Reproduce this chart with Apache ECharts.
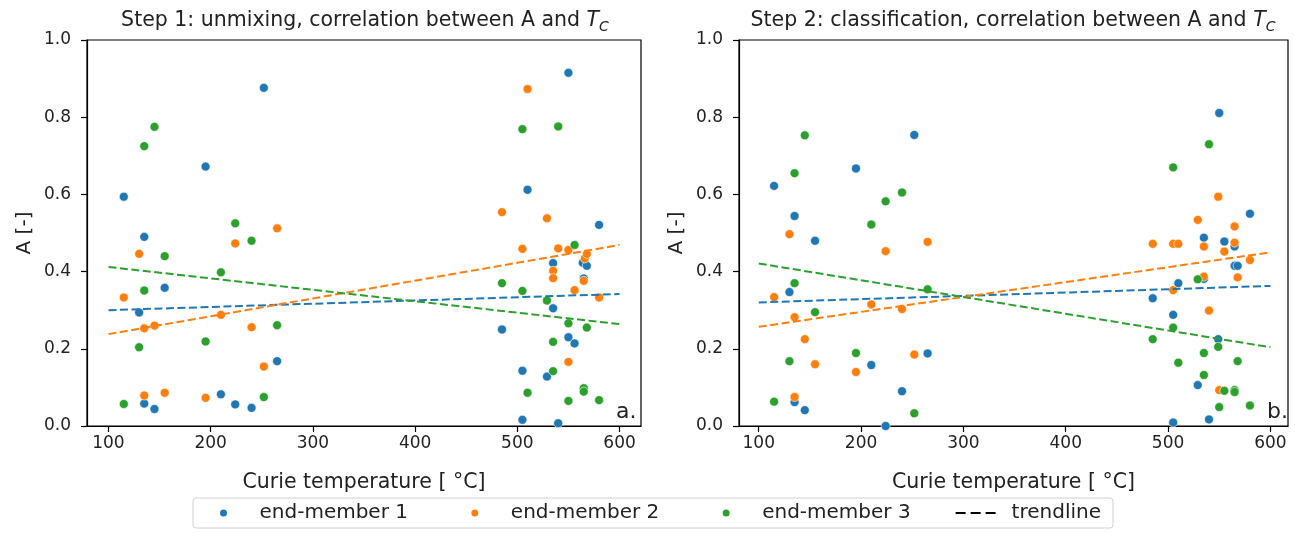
<!doctype html>
<html>

<head>
	<meta charset="utf-8">
	<title></title>
	<script type="text/javascript" src="https://cdn.jsdelivr.net/npm/echarts@6/dist/echarts.min.js"></script>
	<style>
		body { margin: 0; background: #fff; }
	</style>
</head>

<body>
	<div id="main" style="width: 1295px;height:533px;"></div>
	<script type="text/javascript">
		// tick positions
		var xTicks = [100, 200, 300, 400, 500, 600];

		// step 1 (unmixing) : [Curie temperature, A]
		var s1em1 = [[115, 0.594], [130, 0.294], [135, 0.490], [135, 0.058], [145, 0.044], [155, 0.358], [195, 0.672], [210, 0.082], [224, 0.056], [240, 0.047], [252, 0.876], [265, 0.168],
			[485, 0.250], [505, 0.143], [505, 0.016], [510, 0.612], [529, 0.128], [535, 0.422], [535, 0.305], [540, 0.007], [550, 0.915], [550, 0.230], [556, 0.214], [564, 0.423], [565, 0.382], [568, 0.415], [580, 0.521]];
		var s1em2 = [[115, 0.333], [130, 0.446], [135, 0.253], [135, 0.079], [145, 0.260], [155, 0.086], [195, 0.073], [210, 0.288], [224, 0.473], [240, 0.256], [252, 0.154], [265, 0.512],
			[485, 0.554], [505, 0.459], [510, 0.873], [529, 0.538], [535, 0.402], [535, 0.383], [540, 0.460], [550, 0.456], [550, 0.166], [556, 0.352], [565, 0.376], [566, 0.434], [568, 0.446], [580, 0.333]];
		var s1em3 = [[115, 0.057], [130, 0.204], [135, 0.725], [135, 0.351], [145, 0.775], [155, 0.440], [195, 0.219], [210, 0.398], [224, 0.525], [240, 0.480], [252, 0.075], [265, 0.261],
			[485, 0.370], [505, 0.769], [505, 0.350], [510, 0.086], [529, 0.325], [535, 0.218], [535, 0.142], [540, 0.776], [550, 0.266], [550, 0.065], [556, 0.469], [565, 0.098], [565, 0.089], [568, 0.255], [580, 0.067]];

		// step 2 (classification)
		var s2em1 = [[115, 0.622], [130, 0.347], [135, 0.544], [135, 0.062], [145, 0.041], [155, 0.480], [195, 0.667], [210, 0.158], [224, 0.0], [240, 0.090], [252, 0.754], [265, 0.188],
			[485, 0.331], [505, 0.288], [505, 0.009], [510, 0.370], [529, 0.106], [535, 0.488], [535, 0.381], [540, 0.017], [550, 0.811], [549, 0.225], [555, 0.478], [565, 0.465], [565, 0.415], [568, 0.415], [580, 0.550]];
		var s2em2 = [[115, 0.334], [130, 0.497], [135, 0.282], [135, 0.075], [145, 0.225], [155, 0.160], [195, 0.140], [210, 0.315], [224, 0.453], [240, 0.303], [252, 0.185], [265, 0.477],
			[485, 0.472], [505, 0.472], [505, 0.352], [510, 0.472], [529, 0.534], [535, 0.465], [535, 0.387], [540, 0.299], [549, 0.594], [550, 0.093], [555, 0.452], [565, 0.517], [565, 0.475], [568, 0.385], [580, 0.430]];
		var s2em3 = [[115, 0.063], [130, 0.168], [135, 0.655], [135, 0.370], [145, 0.753], [155, 0.295], [195, 0.189], [210, 0.522], [224, 0.582], [240, 0.605], [252, 0.033], [265, 0.354],
			[485, 0.225], [505, 0.670], [505, 0.255], [510, 0.164], [529, 0.380], [535, 0.189], [535, 0.132], [540, 0.730], [549, 0.205], [550, 0.049], [555, 0.091], [565, 0.093], [565, 0.088], [568, 0.168], [580, 0.053]];

		// trendlines, value at x = 100 and x = 600
		var trendX = [100, 600];
		var t1em1 = [0.300, 0.342];
		var t1em2 = [0.238, 0.469];
		var t1em3 = [0.412, 0.264];
		var t2em1 = [0.320, 0.363];
		var t2em2 = [0.257, 0.450];
		var t2em3 = [0.421, 0.204];

		var names = ['end-member 1', 'end-member 2', 'end-member 3'];
		var colors = ['#1f77b4', '#ff7f0e', '#2ca02c'];
		var txt = '#222';
		var font = 'DejaVu Sans';

		function pts(ys) {
			return trendX.map((x, i) => [x, ys[i]]);
		}

		function xAx(idx, min, max) {
			return {
				gridIndex: idx, type: 'value', min: min, max: max,
				name: 'Curie temperature [ °C]', nameLocation: 'middle', nameGap: 46,
				nameTextStyle: { fontSize: 20.5, color: txt, fontFamily: font },
				axisLine: { show: true, onZero: false, lineStyle: { color: '#000', width: 1.2 } },
				axisTick: { show: true, length: 6, customValues: xTicks, lineStyle: { color: '#000', width: 1.2 } },
				axisLabel: { customValues: xTicks, margin: 9, fontSize: 17, color: txt, fontFamily: font },
				splitLine: { show: false }
			};
		}

		function yAx(idx) {
			return {
				gridIndex: idx, type: 'value', min: 0, max: 1, interval: 0.2,
				name: 'A [-]', nameLocation: 'middle', nameGap: 52,
				nameTextStyle: { fontSize: 20, color: txt, fontFamily: font },
				axisLine: { show: true, onZero: false, lineStyle: { color: '#000', width: 1.2 } },
				axisTick: { show: true, length: 6, lineStyle: { color: '#000', width: 1.2 } },
				axisLabel: { margin: 16, fontSize: 17, color: txt, fontFamily: font, formatter: v => v.toFixed(1) },
				splitLine: { show: false }
			};
		}

		function scat(idx, k, data) {
			return {
				type: 'scatter', name: names[k], xAxisIndex: idx, yAxisIndex: idx,
				data: data, symbolSize: 9, z: 2,
				itemStyle: { color: colors[k], borderColor: '#fff', borderWidth: 0.6, opacity: 1 }
			};
		}

		function trend(idx, k, ys) {
			return {
				type: 'line', name: 'trend' + idx + k, xAxisIndex: idx, yAxisIndex: idx,
				data: pts(ys), symbol: 'none', silent: true, z: 3,
				lineStyle: { color: colors[k], width: 2, type: [8, 3.5] }
			};
		}

		var titleRich = {
			i: { fontStyle: 'italic', fontSize: 20.5, color: txt, fontFamily: font },
			s: { fontStyle: 'italic', fontSize: 14, color: txt, fontFamily: font, verticalAlign: 'bottom', lineHeight: 16 }
		};

		var myChart = echarts.init(document.getElementById('main'));
		option = {
			animation: false,
			backgroundColor: '#fff',
			textStyle: { fontFamily: font },
			title: [
				{
					text: 'Step 1: unmixing, correlation between A and {i|T}{s|C}',
					left: 360, top: 3, textAlign: 'center',
					textStyle: { fontSize: 20.5, fontWeight: 'normal', color: txt, fontFamily: font, lineHeight: 26, rich: titleRich }
				},
				{
					text: 'Step 2: classification, correlation between A and {i|T}{s|C}',
					left: 1008, top: 3, textAlign: 'center',
					textStyle: { fontSize: 20.5, fontWeight: 'normal', color: txt, fontFamily: font, lineHeight: 26, rich: titleRich }
				},
				{ text: 'a.', left: 611, top: 396, textStyle: { fontSize: 22, fontWeight: 'normal', color: txt, fontFamily: font } },
				{ text: 'b.', left: 1262, top: 396, textStyle: { fontSize: 22, fontWeight: 'normal', color: txt, fontFamily: font } }
			],
			legend: {
				left: 193, top: 498,
				data: [
					{ name: 'end-member 1', icon: 'circle' },
					{ name: 'end-member 2', icon: 'circle' },
					{ name: 'end-member 3', icon: 'circle' },
					{ name: 'trendline', icon: 'path://M0,0h10v2.2h-10z M15,0h10v2.2h-10z M30,0h10v2.2h-10z', itemStyle: { color: '#000' } }
				],
				itemWidth: 40, itemHeight: 9, itemGap: 45,
				symbolKeepAspect: true,
				padding: [5, 12, 5, 25],
				borderColor: '#d0d0d0', borderWidth: 1, borderRadius: 3,
				selectedMode: false,
				formatter: n => '{sp| }' + n + (n === 'end-member 1' || n === 'end-member 2' ? '\u2002\u00a0' : ''),
				textStyle: { fontSize: 20, color: txt, fontFamily: font, rich: { sp: { width: 11 } } }
			},
			grid: [
				{ left: 87, top: 40, width: 554, height: 386, show: true, borderColor: '#000', borderWidth: 1.2, backgroundColor: '#fff' },
				{ left: 739, top: 40, width: 549, height: 386, show: true, borderColor: '#000', borderWidth: 1.2, backgroundColor: '#fff' }
			],
			xAxis: [xAx(0, 79, 621), xAx(1, 80.7, 617.2)],
			yAxis: [yAx(0), yAx(1)],
			series: [
				scat(0, 0, s1em1), scat(0, 1, s1em2), scat(0, 2, s1em3),
				scat(1, 0, s2em1), scat(1, 1, s2em2), scat(1, 2, s2em3),
				trend(0, 0, t1em1), trend(0, 1, t1em2), trend(0, 2, t1em3),
				trend(1, 0, t2em1), trend(1, 1, t2em2), trend(1, 2, t2em3),
				{
					type: 'line', name: 'trendline', xAxisIndex: 0, yAxisIndex: 0, data: [],
					symbol: 'none', itemStyle: { color: '#000' },
					lineStyle: { color: '#000', width: 2, type: [9, 4] }
				}
			]
		};

		myChart.setOption(option);
	</script>
</body>

</html>
